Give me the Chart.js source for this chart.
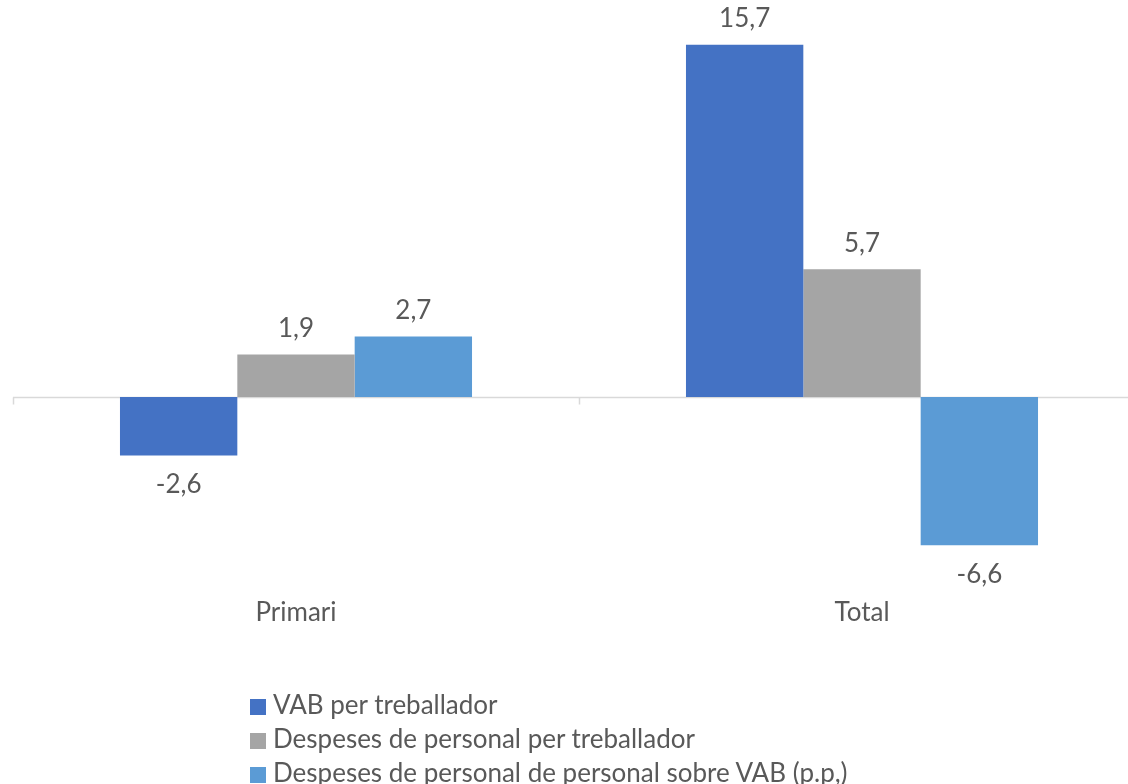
<!DOCTYPE html>
<html>
<head>
<meta charset="UTF-8" />
<script src="https://cdn.jsdelivr.net/npm/chart.js@4/dist/chart.umd.min.js"></script>
<title>VAB i despeses de personal</title>
<style>
html, body { margin:0; padding:0; background:#fff; overflow:hidden; width:1128px; height:784px; }
#wrap { position:relative; width:1160px; height:784px; }
#legend { position:absolute; left:250px; top:687px; font-family:Lato, sans-serif; font-size:26px; color:#595959; }
#legend div { height:34px; line-height:34px; white-space:nowrap; }
#legend span { display:inline-block; width:16px; height:16px; margin-right:7px; vertical-align:-1px; }
</style>
</head>
<body>
<div id="wrap">
  <canvas id="canvas" width="1160" height="784"></canvas>
  <div id="legend"></div>
</div>
<script>
var categories = ['Primari', 'Total'];
var seriesNames = ['VAB per treballador', 'Despeses de personal per treballador', 'Despeses de personal de personal sobre VAB (p.p,)'];
var vabTreballador = [-2.6, 15.7];
var despesesTreballador = [1.9, 5.7];
var despesesSobreVab = [2.7, -6.6];
var colors = ['#4472C4', '#A5A5A5', '#5B9BD5'];

var textColor = '#595959';
var fontFam = 'Lato, sans-serif';

var fmt = function(v) { return v.toFixed(1).replace('.', ','); };

// zero line + small tick marks between categories
var axisLine = {
    id: 'axisLine',
    beforeDatasetsDraw: function(chart) {
        var ctx = chart.ctx, a = chart.chartArea;
        var y0 = Math.round(chart.scales.y.getPixelForValue(0)) + 0.5;
        var xs = chart.scales.x;
        var half = (xs.getPixelForValue(1) - xs.getPixelForValue(0)) / 2;
        ctx.save();
        ctx.strokeStyle = '#d9d9d9';
        ctx.lineWidth = 1.5;
        ctx.beginPath();
        ctx.moveTo(a.left, y0); ctx.lineTo(a.right, y0);
        for (var i = 0; i <= categories.length; i++) {
            var x = Math.round(xs.getPixelForValue(0) - half + i * 2 * half) + 0.5;
            ctx.moveTo(x, y0); ctx.lineTo(x, y0 + 7);
        }
        ctx.stroke();
        ctx.restore();
    }
};

var valueLabels = {
    id: 'valueLabels',
    afterDatasetsDraw: function(chart) {
        var ctx = chart.ctx;
        ctx.save();
        ctx.font = '26px ' + fontFam;
        ctx.fillStyle = textColor;
        ctx.textAlign = 'center';
        ctx.textBaseline = 'middle';
        chart.data.datasets.forEach(function(ds, di) {
            chart.getDatasetMeta(di).data.forEach(function(bar, i) {
                var v = ds.data[i];
                var y = v >= 0 ? bar.y - 26 : bar.y + 29;
                ctx.fillText(fmt(v), bar.x, y);
            });
        });
        ctx.restore();
    }
};

var allSeries = [vabTreballador, despesesTreballador, despesesSobreVab];
var datasets = allSeries.map(function(d, i) {
    return {
        label: seriesNames[i],
        data: d,
        backgroundColor: colors[i],
        borderWidth: 0,
        categoryPercentage: 0.622,
        barPercentage: 1.0
    };
});

new Chart(document.getElementById('canvas').getContext('2d'), {
    type: 'bar',
    data: { labels: categories, datasets: datasets },
    plugins: [axisLine, valueLabels],
    options: {
        responsive: false,
        animation: false,
        layout: { padding: { left: 13, right: 15, top: 0, bottom: 147 } },
        plugins: { legend: { display: false }, tooltip: { enabled: false } },
        scales: {
            x: {
                grid: { display: false, drawTicks: false },
                border: { display: false },
                ticks: { color: textColor, font: { family: fontFam, size: 26 }, padding: 9 }
            },
            y: { display: false, min: -8.5, max: 17.7 }
        }
    }
});

var legend = document.getElementById('legend');
seriesNames.forEach(function(name, i) {
    var row = document.createElement('div');
    row.innerHTML = '<span style="background:' + colors[i] + '"></span>' + name;
    legend.appendChild(row);
});
</script>
</body>
</html>
